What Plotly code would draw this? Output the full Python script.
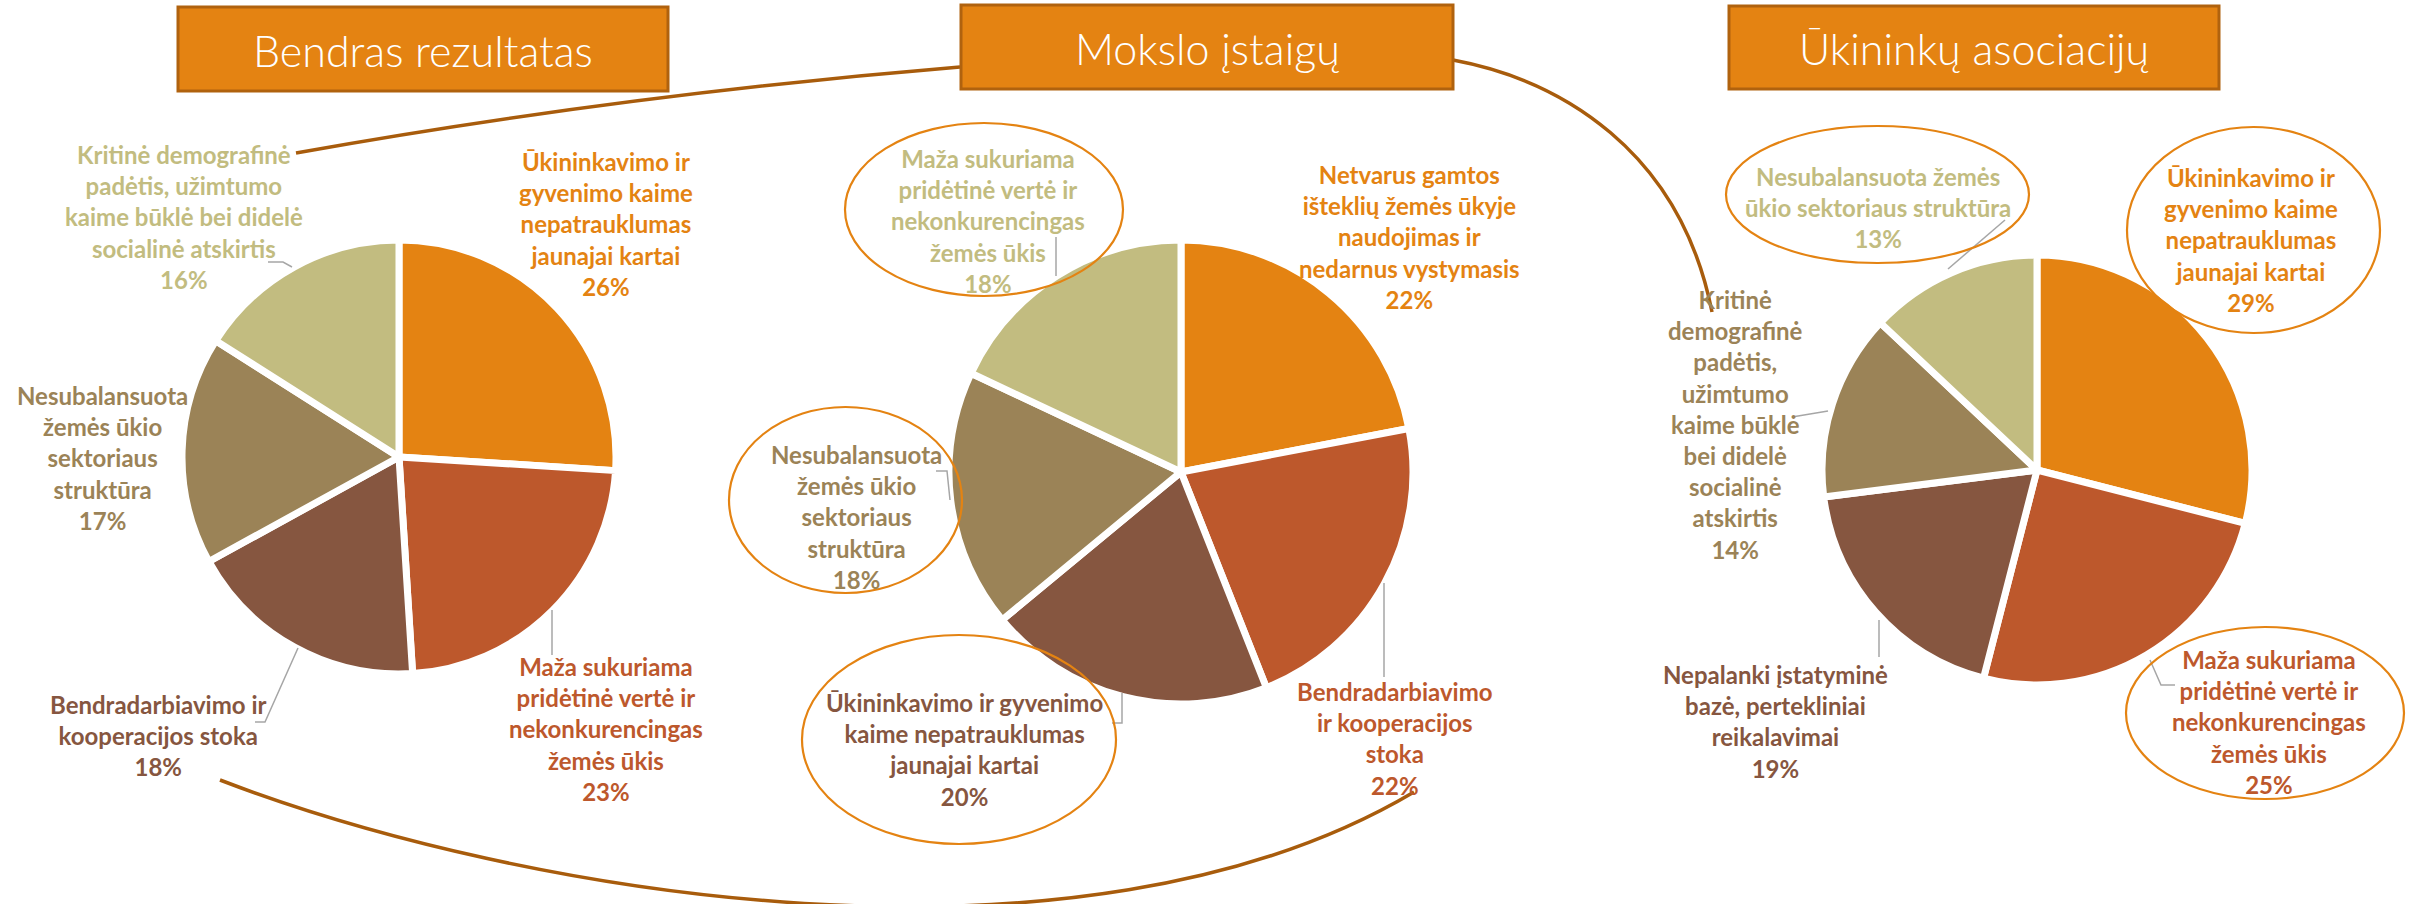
import plotly.graph_objects as go

# ---------------- data ----------------
colors = ["#E48312", "#BD582C", "#865640", "#9B8357", "#C2BC80"]

titles = ["Bendras rezultatas", "Mokslo įstaigų", "Ūkininkų asociacijų"]

cats1 = ["Ūkininkavimo ir<br>gyvenimo kaime<br>nepatrauklumas<br>jaunajai kartai",
         "Maža sukuriama<br>pridėtinė vertė ir<br>nekonkurencingas<br>žemės ūkis",
         "Bendradarbiavimo ir<br>kooperacijos stoka",
         "Nesubalansuota<br>žemės ūkio<br>sektoriaus<br>struktūra",
         "Kritinė demografinė<br>padėtis, užimtumo<br>kaime būklė bei didelė<br>socialinė atskirtis"]
vals1 = [26, 23, 18, 17, 16]

cats2 = ["Netvarus gamtos<br>išteklių žemės ūkyje<br>naudojimas ir<br>nedarnus vystymasis",
         "Bendradarbiavimo<br>ir kooperacijos<br>stoka",
         "Ūkininkavimo ir gyvenimo<br>kaime nepatrauklumas<br>jaunajai kartai",
         "Nesubalansuota<br>žemės ūkio<br>sektoriaus<br>struktūra",
         "Maža sukuriama<br>pridėtinė vertė ir<br>nekonkurencingas<br>žemės ūkis"]
vals2 = [22, 22, 20, 18, 18]

cats3 = ["Ūkininkavimo ir<br>gyvenimo kaime<br>nepatrauklumas<br>jaunajai kartai",
         "Maža sukuriama<br>pridėtinė vertė ir<br>nekonkurencingas<br>žemės ūkis",
         "Nepalanki įstatyminė<br>bazė, pertekliniai<br>reikalavimai",
         "Kritinė<br>demografinė<br>padėtis,<br>užimtumo<br>kaime būklė<br>bei didelė<br>socialinė<br>atskirtis",
         "Nesubalansuota žemės<br>ūkio sektoriaus struktūra"]
vals3 = [29, 25, 19, 14, 13]

# ---------------- layout (pixel positions) ----------------
W, H = 2414, 904
pies = [
    dict(cats=cats1, vals=vals1, cx=399, cy=457, r=217,
         labels=[(606, 224), (606, 729), (158, 735), (102, 458), (184, 217)]),
    dict(cats=cats2, vals=vals2, cx=1181, cy=472, r=232,
         labels=[(1409, 237), (1395, 738), (964, 749), (856, 517), (988, 221)]),
    dict(cats=cats3, vals=vals3, cx=2037, cy=470, r=215,
         labels=[(2251, 240), (2269, 722), (1775, 721), (1735, 424), (1878, 207)]),
]
title_boxes = [(178, 7, 668, 91), (961, 5, 1453, 89), (1729, 6, 2219, 89)]
ellipses = [(845, 123, 1123, 296), (729, 407, 962, 593), (802, 635, 1116, 844),
            (1726, 126, 2029, 263), (2127, 127, 2380, 333), (2126, 627, 2404, 799)]
leaders = [
    [(268, 262), (283, 262), (292, 267)],
    [(552, 610), (552, 655)],
    [(298, 648), (265, 722), (255, 722)],
    [(1056, 237), (1056, 276)],
    [(936, 471), (947, 471), (950, 500)],
    [(1112, 723), (1122, 723), (1122, 693)],
    [(1384, 583), (1384, 677)],
    [(2005, 220), (1948, 269)],
    [(1828, 411), (1792, 417)],
    [(1879, 620), (1879, 657)],
    [(2150, 660), (2161, 685), (2175, 685)],
]
connectors = [
    "M 296,153 Q 620,95 960,67",
    "M 1453,60 C 1560,80 1680,150 1712,312",
    "M 220,780 C 520,895 1080,990 1414,792",
]

FONT = "Lato, 'Open Sans', sans-serif"

fig = go.Figure()

for p in pies:
    fig.add_trace(go.Pie(
        labels=p["cats"], values=p["vals"], sort=False, direction="clockwise",
        rotation=0, textinfo="none", hoverinfo="label+percent",
        marker=dict(colors=colors, line=dict(color="#FFFFFF", width=7)),
        domain=dict(x=[(p["cx"] - p["r"]) / W, (p["cx"] + p["r"]) / W],
                    y=[1 - (p["cy"] + p["r"]) / H, 1 - (p["cy"] - p["r"]) / H]),
        showlegend=False,
    ))

shapes = []
annotations = []

for pts in leaders:
    path = "M " + " L ".join(f"{x},{y}" for x, y in pts)
    shapes.append(dict(type="path", xref="x", yref="y", path=path,
                       line=dict(color="#A6A6A6", width=1.5)))

for path in connectors:
    shapes.append(dict(type="path", xref="x", yref="y", path=path,
                       line=dict(color="#A85C0C", width=3.5)))

for (x0, y0, x1, y1) in ellipses:
    shapes.append(dict(type="circle", xref="x", yref="y", x0=x0, y0=y0, x1=x1, y1=y1,
                       line=dict(color="#E48312", width=2.2), fillcolor="rgba(0,0,0,0)"))

for (x0, y0, x1, y1), t in zip(title_boxes, titles):
    shapes.append(dict(type="rect", xref="x", yref="y", x0=x0, y0=y0, x1=x1, y1=y1,
                       fillcolor="#E48312", line=dict(color="#B0620E", width=3)))
    annotations.append(dict(x=(x0 + x1) / 2, y=(y0 + y1) / 2 + 1, xref="x", yref="y",
                            text=t, showarrow=False, xanchor="center", yanchor="middle",
                            font=dict(family=FONT, size=43, color="#FFFFFF", weight=300)))

for p in pies:
    for cat, val, col, (lx, ly) in zip(p["cats"], p["vals"], colors, p["labels"]):
        annotations.append(dict(x=lx, y=ly, xref="x", yref="y",
                                text=f"{cat}<br>{val}%", showarrow=False,
                                xanchor="center", yanchor="middle", align="center",
                                font=dict(family=FONT, size=24, color=col, weight="bold")))

fig.update_layout(
    width=W, height=H, margin=dict(l=0, r=0, t=0, b=0),
    paper_bgcolor="#FFFFFF", plot_bgcolor="rgba(0,0,0,0)",
    xaxis=dict(range=[0, W], visible=False, domain=[0, 1], fixedrange=True),
    yaxis=dict(range=[H, 0], visible=False, domain=[0, 1], fixedrange=True),
    shapes=shapes, annotations=annotations,
)

fig.write_html("out.html", config={"displayModeBar": False},
               post_script="document.body.style.margin='0';document.body.style.overflow='hidden';")
